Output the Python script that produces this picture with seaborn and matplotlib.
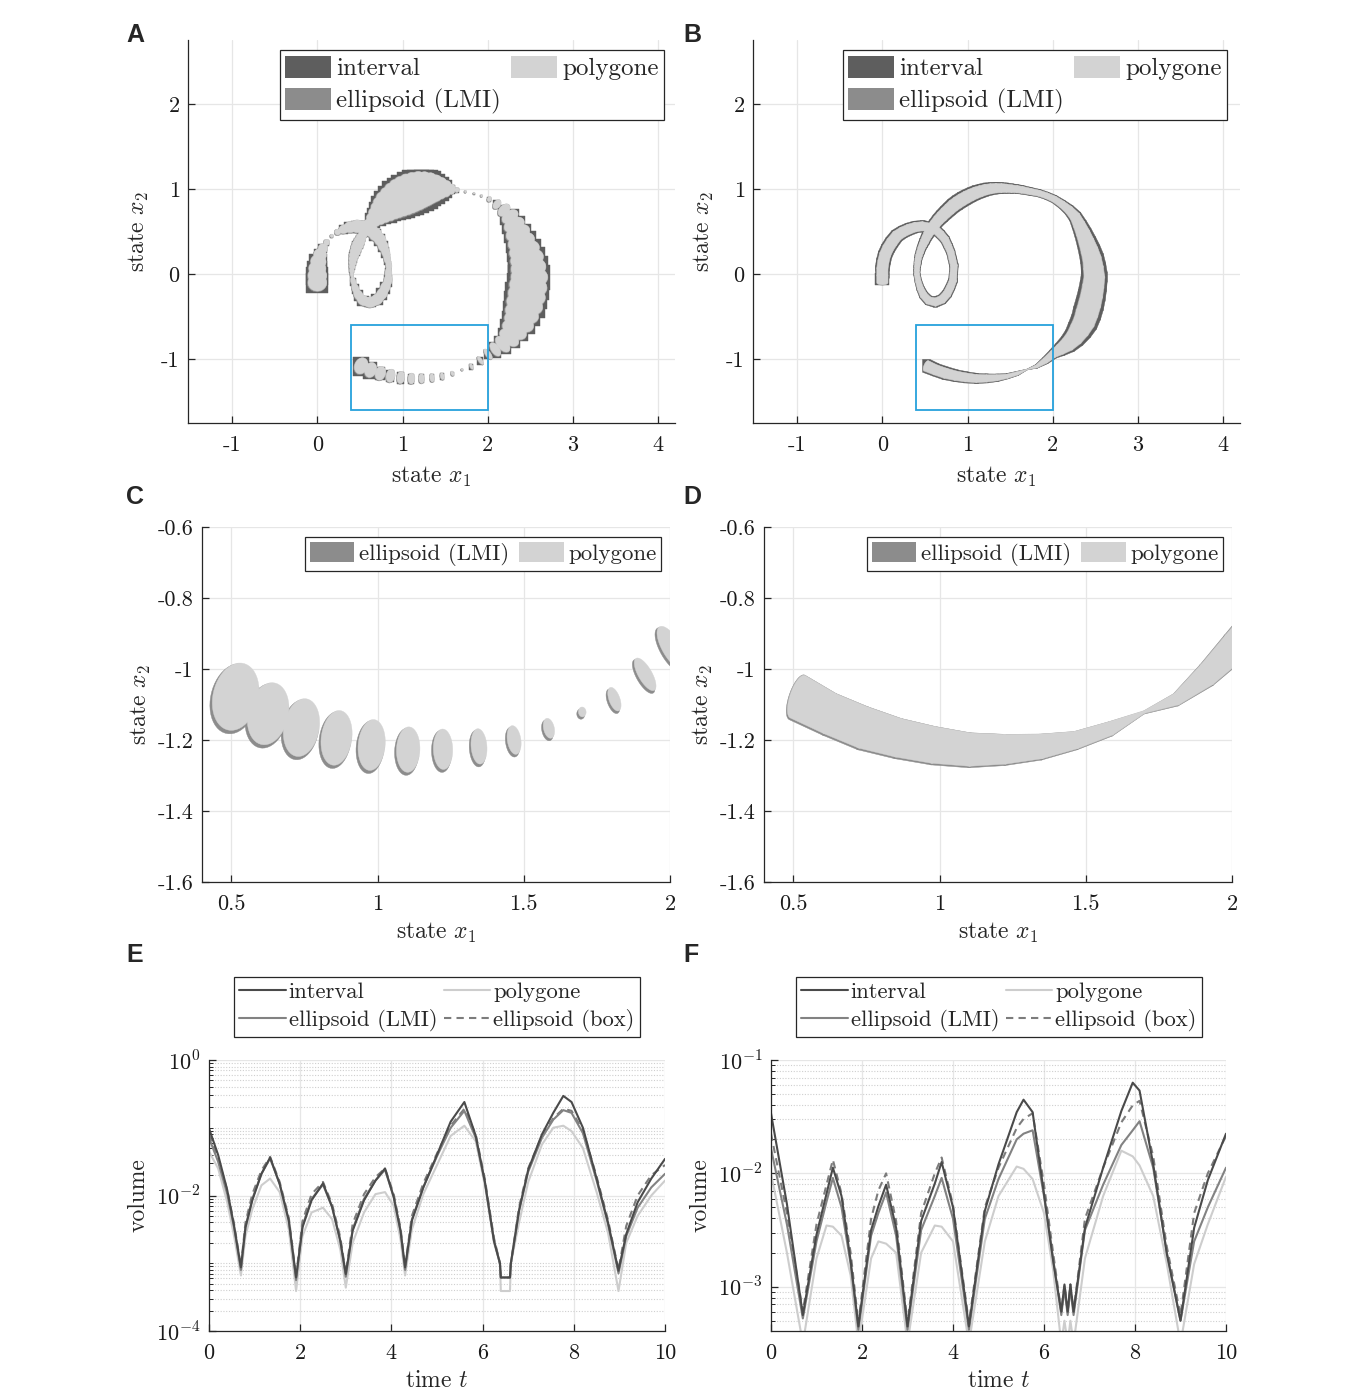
import numpy as np
import matplotlib
matplotlib.use("Agg")
import matplotlib.pyplot as plt
import seaborn as sns
from matplotlib.collections import PolyCollection
from matplotlib.patches import Rectangle, Patch
from matplotlib.lines import Line2D
from matplotlib.ticker import FixedLocator, FuncFormatter, NullFormatter

sns.set_theme(style="white")
plt.rcParams["font.family"] = ["cmr10", "DejaVu Serif"]
plt.rcParams["mathtext.fontset"] = "cm"
plt.rcParams["axes.unicode_minus"] = False
plt.rcParams["axes.formatter.use_mathtext"] = True

# ------------------------------------------------------------------ data
# trajectory centre of the reachable set, one point per time step (t = 0, 0.1, ..., 10)
path_x1 = [0.000, 0.000, 0.000, 0.012, 0.032, 0.066, 0.110, 0.170, 0.238, 0.312,
           0.389, 0.469, 0.548, 0.624, 0.683, 0.736, 0.771, 0.803, 0.821, 0.840,
           0.835, 0.830, 0.798, 0.759, 0.701, 0.622, 0.541, 0.484, 0.447, 0.422,
           0.405, 0.405, 0.409, 0.414, 0.419, 0.430, 0.444, 0.458, 0.476, 0.495,
           0.513, 0.534, 0.558, 0.580, 0.618, 0.657, 0.699, 0.743, 0.788, 0.833,
           0.882, 0.935, 0.988, 1.042, 1.098, 1.156, 1.216, 1.276, 1.336, 1.397,
           1.458, 1.519, 1.580, 1.640, 1.740, 1.840, 1.930, 2.020, 2.110, 2.193,
           2.263, 2.312, 2.356, 2.396, 2.432, 2.462, 2.479, 2.490, 2.477, 2.459,
           2.435, 2.403, 2.369, 2.315, 2.253, 2.177, 2.090, 2.005, 1.915, 1.810,
           1.700, 1.586, 1.467, 1.347, 1.224, 1.105, 0.980, 0.860, 0.740, 0.626,
           0.515]
path_x2 = [-0.100, -0.017, 0.066, 0.148, 0.228, 0.303, 0.373, 0.450, 0.494, 0.528,
           0.553, 0.562, 0.549, 0.522, 0.467, 0.406, 0.332, 0.258, 0.180, 0.100,
           0.013, -0.074, -0.155, -0.232, -0.297, -0.329, -0.309, -0.247, -0.169, -0.086,
           0.000, 0.044, 0.089, 0.133, 0.177, 0.219, 0.261, 0.304, 0.345, 0.385,
           0.425, 0.464, 0.503, 0.540, 0.588, 0.636, 0.679, 0.723, 0.764, 0.805,
           0.840, 0.874, 0.904, 0.931, 0.956, 0.975, 0.993, 1.003, 1.010, 1.010,
           1.009, 1.003, 0.998, 0.990, 0.970, 0.950, 0.920, 0.880, 0.820, 0.753,
           0.676, 0.580, 0.483, 0.381, 0.280, 0.179, 0.073, -0.035, -0.141, -0.249,
           -0.353, -0.461, -0.562, -0.656, -0.747, -0.823, -0.884, -0.940, -1.015, -1.085,
           -1.121, -1.167, -1.200, -1.218, -1.226, -1.227, -1.214, -1.194, -1.165, -1.126,
           -1.078]
# panel A sets: half size across / along the motion
setA_across = [0.110, 0.110, 0.100, 0.090, 0.075, 0.055, 0.035, 0.020, 0.035, 0.050,
               0.065, 0.075, 0.080, 0.080, 0.075, 0.068, 0.058, 0.048, 0.040, 0.035,
               0.040, 0.048, 0.055, 0.060, 0.062, 0.062, 0.058, 0.050, 0.040, 0.030,
               0.020, 0.028, 0.036, 0.044, 0.050, 0.056, 0.062, 0.066, 0.068, 0.066,
               0.060, 0.052, 0.045, 0.040, 0.070, 0.090, 0.115, 0.140, 0.165, 0.185,
               0.200, 0.215, 0.225, 0.230, 0.230, 0.225, 0.215, 0.200, 0.180, 0.155,
               0.125, 0.095, 0.060, 0.030, 0.015, 0.012, 0.015, 0.030, 0.060, 0.085,
               0.105, 0.125, 0.145, 0.160, 0.180, 0.195, 0.205, 0.215, 0.220, 0.220,
               0.215, 0.200, 0.180, 0.155, 0.130, 0.110, 0.090, 0.072, 0.055, 0.036,
               0.014, 0.029, 0.041, 0.050, 0.057, 0.064, 0.072, 0.078, 0.083, 0.090,
               0.098]
setA_along = [0.100, 0.090, 0.085, 0.080, 0.070, 0.055, 0.035, 0.020, 0.035, 0.060,
              0.075, 0.080, 0.082, 0.082, 0.080, 0.078, 0.075, 0.072, 0.068, 0.062,
              0.068, 0.075, 0.080, 0.082, 0.082, 0.080, 0.078, 0.072, 0.065, 0.055,
              0.040, 0.034, 0.034, 0.036, 0.038, 0.041, 0.044, 0.047, 0.048, 0.046,
              0.043, 0.040, 0.038, 0.036, 0.050, 0.060, 0.070, 0.080, 0.090, 0.100,
              0.105, 0.110, 0.115, 0.120, 0.125, 0.128, 0.128, 0.122, 0.110, 0.095,
              0.078, 0.060, 0.040, 0.025, 0.013, 0.011, 0.013, 0.025, 0.040, 0.055,
              0.068, 0.080, 0.092, 0.102, 0.112, 0.120, 0.127, 0.132, 0.135, 0.133,
              0.128, 0.118, 0.106, 0.092, 0.077, 0.062, 0.048, 0.030, 0.022, 0.018,
              0.013, 0.018, 0.023, 0.027, 0.033, 0.040, 0.046, 0.052, 0.060, 0.068,
              0.076]
# panel B sets: half size across the motion
setB_across = [0.065, 0.065, 0.065, 0.065, 0.065, 0.065, 0.065, 0.063, 0.060, 0.058,
               0.055, 0.053, 0.050, 0.048, 0.046, 0.044, 0.042, 0.040, 0.040, 0.040,
               0.040, 0.042, 0.044, 0.046, 0.048, 0.048, 0.046, 0.042, 0.036, 0.032,
               0.030, 0.030, 0.032, 0.034, 0.036, 0.038, 0.040, 0.042, 0.045, 0.048,
               0.050, 0.053, 0.056, 0.058, 0.060, 0.063, 0.066, 0.068, 0.070, 0.072,
               0.073, 0.073, 0.072, 0.070, 0.068, 0.065, 0.062, 0.058, 0.055, 0.052,
               0.048, 0.045, 0.042, 0.040, 0.037, 0.035, 0.035, 0.037, 0.042, 0.050,
               0.060, 0.070, 0.080, 0.090, 0.100, 0.108, 0.115, 0.120, 0.124, 0.127,
               0.130, 0.130, 0.125, 0.115, 0.100, 0.085, 0.065, 0.045, 0.035, 0.018,
               0.004, 0.020, 0.025, 0.035, 0.042, 0.047, 0.052, 0.055, 0.060, 0.060,
               0.065]

# volume curves, log10 of the volume
E_t = [0, 0.2, 0.4, 0.55, 0.7, 0.8, 0.95, 1.15, 1.34, 1.55, 1.75, 1.91, 2.05, 2.25, 2.5,
       2.7, 2.88, 3.0, 3.15, 3.4, 3.65, 3.86, 4.05, 4.2, 4.3, 4.45, 4.7, 5.0, 5.3, 5.6,
       5.85, 6.05, 6.25, 6.38, 6.4, 6.6, 6.62, 6.8, 7.0, 7.3, 7.55, 7.77, 7.95, 8.2, 8.5,
       8.75, 8.98, 9.15, 9.4, 9.7, 10]
E_interval = [-1.01, -1.40, -1.92, -2.45, -3.06, -2.47, -2.07, -1.68, -1.44, -1.83,
              -2.37, -3.21, -2.47, -2.07, -1.82, -2.17, -2.67, -3.16, -2.52, -2.07,
              -1.78, -1.60, -2.02, -2.52, -3.06, -2.37, -1.88, -1.40, -0.91, -0.62,
              -1.12, -1.80, -2.67, -3.00, -3.21, -3.21, -3.00, -2.22, -1.62, -1.10,
              -0.78, -0.53, -0.62, -1.00, -1.75, -2.40, -3.11, -2.57, -2.10, -1.75, -1.46]
E_lmi = [-1.15, -1.50, -1.98, -2.47, -3.10, -2.47, -2.05, -1.68, -1.45, -1.83,
         -2.37, -3.25, -2.45, -2.05, -1.84, -2.17, -2.67, -3.20, -2.50, -2.05,
         -1.78, -1.62, -2.02, -2.52, -3.10, -2.35, -1.88, -1.42, -1.00, -0.75,
         -1.15, -1.80, -2.67, -3.00, -3.21, -3.21, -3.00, -2.22, -1.65, -1.15,
         -0.88, -0.74, -0.78, -1.08, -1.78, -2.42, -3.15, -2.60, -2.18, -1.88, -1.68]
E_box = [-1.10, -1.45, -1.92, -2.42, -3.05, -2.40, -1.98, -1.63, -1.43, -1.80,
         -2.33, -3.20, -2.38, -1.98, -1.80, -2.13, -2.62, -3.15, -2.42, -1.98,
         -1.73, -1.60, -1.98, -2.48, -3.05, -2.30, -1.82, -1.38, -0.97, -0.72,
         -1.10, -1.76, -2.63, -3.00, -3.21, -3.21, -3.00, -2.17, -1.60, -1.12,
         -0.86, -0.72, -0.75, -1.04, -1.72, -2.36, -3.10, -2.45, -2.00, -1.70, -1.55]
E_poly = [-1.35, -1.60, -2.10, -2.60, -3.18, -2.60, -2.20, -1.85, -1.75, -1.95,
          -2.50, -3.41, -2.60, -2.25, -2.18, -2.35, -2.80, -3.36, -2.70, -2.25,
          -1.98, -1.95, -2.15, -2.65, -3.18, -2.50, -1.98, -1.55, -1.12, -0.97,
          -1.20, -1.85, -2.70, -3.00, -3.41, -3.41, -3.00, -2.40, -1.80, -1.25,
          -1.00, -0.97, -1.05, -1.30, -1.95, -2.55, -3.41, -2.70, -2.30, -2.00, -1.78]

F_t = [0, 0.35, 0.7, 1.0, 1.22, 1.36, 1.55, 1.75, 1.92, 2.2, 2.36, 2.53, 2.75, 3.0, 3.3,
       3.6, 3.75, 4.0, 4.35, 4.7, 5.0, 5.4, 5.55, 5.75, 6.0, 6.2, 6.38, 6.45, 6.52, 6.58,
       6.65, 6.9, 7.3, 7.7, 7.95, 8.1, 8.4, 8.7, 9.0, 9.3, 9.6, 10]
F_interval = [-1.47, -2.27, -3.25, -2.54, -2.18, -1.95, -2.20, -2.77, -3.35, -2.50,
              -2.29, -2.10, -2.48, -3.35, -2.42, -2.09, -1.90, -2.30, -3.35, -2.33,
              -1.92, -1.46, -1.35, -1.46, -2.18, -2.77, -3.22, -2.98, -3.22, -2.98,
              -3.22, -2.48, -1.95, -1.45, -1.20, -1.27, -1.92, -2.71, -3.30, -2.48,
              -2.06, -1.65]
F_lmi = [-1.78, -2.45, -3.28, -2.60, -2.25, -2.04, -2.30, -2.80, -3.38, -2.55,
         -2.35, -2.17, -2.55, -3.38, -2.50, -2.20, -2.04, -2.40, -3.38, -2.40,
         -2.05, -1.70, -1.65, -1.62, -2.20, -2.75, -3.25, -3.02, -3.25, -3.02,
         -3.25, -2.50, -2.10, -1.75, -1.62, -1.54, -1.95, -2.70, -3.30, -2.60,
         -2.30, -1.95]
F_box = [-1.65, -2.35, -3.22, -2.45, -2.10, -1.88, -2.18, -2.70, -3.32, -2.40,
         -2.15, -2.00, -2.42, -3.32, -2.35, -2.00, -1.86, -2.28, -3.32, -2.30,
         -1.95, -1.60, -1.52, -1.47, -2.10, -2.70, -3.22, -2.98, -3.22, -2.98,
         -3.22, -2.40, -1.95, -1.55, -1.40, -1.36, -1.85, -2.65, -3.25, -2.35,
         -2.00, -1.67]
F_poly = [-2.00, -2.70, -3.50, -2.75, -2.46, -2.47, -2.55, -2.90, -3.50, -2.75,
          -2.60, -2.62, -2.70, -3.50, -2.70, -2.46, -2.47, -2.60, -3.50, -2.60,
          -2.20, -1.94, -1.96, -2.05, -2.35, -2.85, -3.50, -3.30, -3.50, -3.30,
          -3.50, -2.75, -2.20, -1.80, -1.85, -1.93, -2.20, -2.80, -3.50, -2.80,
          -2.45, -2.03]

legend_sets = ["interval", "ellipsoid (LMI)", "polygone"]
legend_lines = ["interval", "ellipsoid (LMI)", "polygone", "ellipsoid (box)"]

# ------------------------------------------------------------------ style
DARK, MID, LIGHT = "#5e5e5e", "#8c8c8c", "#d3d3d3"
L_INT, L_LMI, L_BOX, L_POL = "#4a4a4a", "#828282", "#7c7c7c", "#cdcdcd"
BLUE = "#26a1dc"
FS = 16

W, H = 1356, 1392
fig = plt.figure(figsize=(W / 100, H / 100), dpi=100)


def add_ax(l, t, r, b):
    return fig.add_axes([l / W, 1 - b / H, (r - l) / W, (b - t) / H])


def style(ax):
    for s in ["top", "right"]:
        ax.spines[s].set_visible(False)
    for s in ["left", "bottom"]:
        ax.spines[s].set_color("#262626")
        ax.spines[s].set_linewidth(0.9)
    ax.tick_params(which="both", direction="in", bottom=True, left=True, top=False,
                   right=False, colors="#262626", labelcolor="#1a1a1a",
                   labelsize=FS, pad=6)
    ax.tick_params(axis="x", which="both", pad=9)
    ax.tick_params(which="major", length=5, width=0.9)
    ax.tick_params(which="minor", length=3, width=0.7)
    ax.grid(True, which="major", color="#e6e6e6", lw=0.9)
    ax.set_axisbelow(True)


fmt_g = FuncFormatter(lambda v, p: "%g" % v)

# ------------------------------------------------------------------ geometry
X1 = np.array(path_x1)
X2 = np.array(path_x2)
dx = np.gradient(X1)
dy = np.gradient(X2)
nrm = np.hypot(dx, dy)
TX, TY = dx / nrm, dy / nrm
TH = np.linspace(0, 2 * np.pi, 48, endpoint=False)
N = len(X1)


def ell(i, a, b, scale=1.0, sx=0.0, sy=0.0):
    nx, ny = -TY[i], TX[i]
    ca = a * scale * np.cos(TH)
    sb = b * scale * np.sin(TH)
    return np.column_stack([X1[i] + sx + ca * nx + sb * TX[i],
                            X2[i] + sy + ca * ny + sb * TY[i]])


def box(P, i, grow=1.0):
    c = np.array([X1[i], X2[i]])
    Q = (P - c) * grow + c
    x0, y0 = Q.min(0)
    x1, y1 = Q.max(0)
    return np.array([[x0, y0], [x1, y0], [x1, y1], [x0, y1]])


def hull(P):
    P = np.unique(np.round(P, 9), axis=0)

    def cross(o, a, b):
        return (a[0] - o[0]) * (b[1] - o[1]) - (a[1] - o[1]) * (b[0] - o[0])

    lower, upper = [], []
    for p in P:
        while len(lower) >= 2 and cross(lower[-2], lower[-1], p) <= 0:
            lower.pop()
        lower.append(tuple(p))
    for p in P[::-1]:
        while len(upper) >= 2 and cross(upper[-2], upper[-1], p) <= 0:
            upper.pop()
        upper.append(tuple(p))
    return np.array(lower[:-1] + upper[:-1])


# panel A sets (discrete)
A_box, A_lmi, A_pol = [], [], []
for i in range(N):
    a, b = setA_across[i], setA_along[i]
    Lm = ell(i, a, b, 1.04, -0.005, -0.006)
    A_lmi.append(Lm)
    A_pol.append(ell(i, a, b))
    A_box.append(box(Lm, i, 0.9 if a < 0.09 else 1.10))

# panel B sets (swept tube)
B_ell_p = [ell(i, setB_across[i], 0.4 * setB_across[i]) for i in range(N)]
B_ell_l = [ell(i, setB_across[i], 0.4 * setB_across[i], 1.05, -0.002, -0.002) for i in range(N)]
B_box_i = [box(ell(i, setB_across[i], 0.4 * setB_across[i]), i, 1.25) for i in range(N)]
B_box, B_lmi, B_pol = [], [], []
for i in range(N - 1):
    B_box.append(hull(np.vstack([B_box_i[i], B_box_i[i + 1]])))
    B_lmi.append(hull(np.vstack([B_ell_l[i], B_ell_l[i + 1]])))
    B_pol.append(hull(np.vstack([B_ell_p[i], B_ell_p[i + 1]])))


def add_polys(ax, polys, color, z):
    ax.add_collection(PolyCollection(polys, facecolors=color, edgecolors=color,
                                     linewidths=0.3, zorder=z))


set_handles = [Patch(fc=DARK, ec="none"), Patch(fc=MID, ec="none"), Patch(fc=LIGHT, ec="none")]


def make_legend(ax, handles, labels, ncol, cx, cy, fs, hl, hh, hpad, cspace, lspace):
    lg = ax.legend(handles, labels, ncol=ncol, frameon=True, fancybox=False,
                   edgecolor="#262626", framealpha=1, borderpad=0.22, labelspacing=lspace,
                   handletextpad=hpad, columnspacing=cspace, handlelength=hl,
                   handleheight=hh, fontsize=fs, loc="center",
                   bbox_to_anchor=(cx / W, 1 - cy / H), bbox_transform=fig.transFigure,
                   borderaxespad=0)
    lg.get_frame().set_linewidth(0.9)


def phase_axes(ax, layers, cx, ylab_x):
    style(ax)
    for polys, col, z in layers:
        add_polys(ax, polys, col, z)
    ax.add_patch(Rectangle((0.4, -1.6), 1.6, 1.0, fill=False, ec=BLUE, lw=1.3, zorder=6))
    ax.set_xlim(-1.52, 4.2)
    ax.set_ylim(-1.75, 2.75)
    ax.xaxis.set_major_locator(FixedLocator([-1, 0, 1, 2, 3, 4]))
    ax.yaxis.set_major_locator(FixedLocator([-1, 0, 1, 2]))
    ax.xaxis.set_major_formatter(fmt_g)
    ax.yaxis.set_major_formatter(fmt_g)
    ax.set_xlabel("state $x_1$", fontsize=FS + 1)
    ax.set_ylabel("state $x_2$", fontsize=FS + 1)
    ax.xaxis.set_label_coords(0.5, -0.11)
    ax.yaxis.set_label_coords(ylab_x, 0.5)
    make_legend(ax, set_handles, legend_sets, 2, cx, 85, 18, 1.85, 1.0, 0.2, 0.4, 0.3)


axA = add_ax(188, 40, 675, 423)
phase_axes(axA, [(A_box, DARK, 2), (A_lmi, MID, 3), (A_pol, LIGHT, 4)], 472, -0.075)
axB = add_ax(753, 40, 1240, 423)
phase_axes(axB, [(B_box, DARK, 2), (B_lmi, MID, 3), (B_pol, LIGHT, 4)], 1035, -0.075)


def zoom_axes(ax, layers, cx, ylab_x):
    style(ax)
    for polys, col, z in layers:
        add_polys(ax, polys, col, z)
    ax.set_xlim(0.4, 2.0)
    ax.set_ylim(-1.6, -0.6)
    ax.xaxis.set_major_locator(FixedLocator([0.5, 1, 1.5, 2]))
    ax.yaxis.set_major_locator(FixedLocator([-1.6, -1.4, -1.2, -1.0, -0.8, -0.6]))
    ax.xaxis.set_major_formatter(fmt_g)
    ax.yaxis.set_major_formatter(fmt_g)
    ax.set_xlabel("state $x_1$", fontsize=FS + 1)
    ax.set_ylabel("state $x_2$", fontsize=FS + 1)
    ax.xaxis.set_label_coords(0.5, -0.11)
    ax.yaxis.set_label_coords(ylab_x, 0.5)
    make_legend(ax, set_handles[1:], legend_sets[1:], 2, cx, 554, 16.5, 1.95, 0.95,
                0.18, 0.45, 0.12)


axC = add_ax(202, 527, 670, 882)
zoom_axes(axC, [(A_lmi[84:], MID, 3), (A_pol[84:], LIGHT, 4)], 483, -0.105)
axD = add_ax(764, 527, 1232, 882)
zoom_axes(axD, [(B_lmi[84:], MID, 3), (B_pol[84:], LIGHT, 4)], 1045, -0.105)


def volume_axes(ax, t, series, ylim, majors, cx, ylab_x):
    style(ax)
    ax.set_yscale("log")
    ax.grid(True, which="minor", axis="y", color="#cfcfcf", lw=0.8, ls=(0, (1, 1.5)))
    cols = [L_POL, L_BOX, L_LMI, L_INT]
    styles = ["-", (0, (3.5, 2.5)), "-", "-"]
    for vals, c, s in zip(series, cols, styles):
        sns.lineplot(x=t, y=10 ** np.array(vals), ax=ax, color=c, lw=1.5, linestyle=s,
                     sort=False, estimator=None)
    ax.set_xlim(0, 10)
    ax.set_ylim(*ylim)
    ax.xaxis.set_major_locator(FixedLocator([0, 2, 4, 6, 8, 10]))
    ax.xaxis.set_major_formatter(fmt_g)
    ax.yaxis.set_major_locator(FixedLocator(majors))
    ax.yaxis.set_major_formatter(FuncFormatter(lambda v, p: r"$10^{%d}$" % round(np.log10(v))))
    mins = [k * 10.0 ** e for e in range(-5, 1) for k in range(1, 10)
            if ylim[0] <= k * 10.0 ** e <= ylim[1]
            and not any(np.isclose(k * 10.0 ** e, m) for m in majors)]
    ax.yaxis.set_minor_locator(FixedLocator(mins))
    ax.yaxis.set_minor_formatter(NullFormatter())
    ax.set_xlabel("time $t$", fontsize=FS + 1)
    ax.set_ylabel("volume", fontsize=FS + 1)
    ax.xaxis.set_label_coords(0.5, -0.145)
    ax.yaxis.set_label_coords(ylab_x, 0.5)
    handles = [Line2D([], [], color=L_INT, lw=1.5), Line2D([], [], color=L_LMI, lw=1.5),
               Line2D([], [], color=L_POL, lw=1.5),
               Line2D([], [], color=L_BOX, lw=1.5, ls=(0, (3.5, 2.5)))]
    make_legend(ax, handles, legend_lines, 2, cx, 1007, 16.3, 2.05, 0.7, 0.12, 0.3, 0.3)


axE = add_ax(209, 1060, 665, 1331)
volume_axes(axE, E_t, [E_poly, E_box, E_lmi, E_interval], (1e-4, 1.0),
            [1e-4, 1e-2, 1.0], 437, -0.13)
axF = add_ax(771, 1060, 1226, 1331)
volume_axes(axF, F_t, [F_poly, F_box, F_lmi, F_interval], (4.07e-4, 1e-1),
            [1e-3, 1e-2, 1e-1], 999, -0.13)

for lab, x, y in [("A", 126, 35), ("B", 683, 35), ("C", 126, 497), ("D", 683, 497),
                  ("E", 126, 955), ("F", 683, 955)]:
    fig.text(x / W, 1 - y / H, lab, fontsize=18, fontweight="bold",
             family=["Liberation Sans", "DejaVu Sans"], ha="left", va="center")

fig.savefig("out.png", dpi=100, facecolor="white")
